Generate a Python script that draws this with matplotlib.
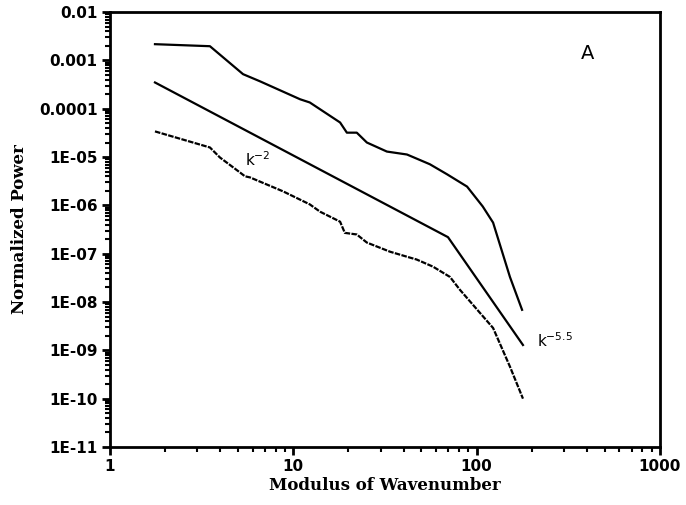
import matplotlib
matplotlib.use("Agg")
import matplotlib.pyplot as plt
from matplotlib.ticker import FixedLocator, LogLocator, NullFormatter

# Upper spectrum
k_top = [1.76, 3.51, 5.32, 6.58, 10.9, 12.3, 18.0, 19.6, 22.2, 25.2, 32.4, 41.7, 45.0,
         55.6, 69.0, 88.7, 108, 123, 152, 177]
p_top = [2.17e-3, 1.97e-3, 5.2e-4, 3.7e-4, 1.57e-4, 1.35e-4, 5.2e-5, 3.2e-5, 3.2e-5, 2.0e-5,
         1.3e-5, 1.13e-5, 1.0e-5, 7.1e-6, 4.4e-6, 2.45e-6, 9.5e-7, 4.4e-7, 3.3e-8, 6.9e-9]

# Reference power law (k^-2 then k^-5.5)
k_ref = [1.76, 69.8, 179]
p_ref = [3.5e-4, 2.2e-7, 1.29e-9]

# Lower spectrum
k_low = [1.76, 3.51, 3.98, 5.12, 5.45, 5.8, 8.8, 12.3, 14.0, 18.0, 19.1, 22.2, 25.2, 33.7,
         43.3, 47.0, 57.8, 71.6, 81, 123, 152, 179]
p_low = [3.4e-5, 1.58e-5, 9.8e-6, 4.8e-6, 4.0e-6, 3.8e-6, 1.95e-6, 1.05e-6, 7.4e-7, 4.6e-7,
         2.7e-7, 2.5e-7, 1.7e-7, 1.1e-7, 8.3e-8, 7.6e-8, 5.4e-8, 3.3e-8, 1.8e-8, 2.9e-9,
         4.6e-10, 1.0e-10]

y_ticks = [1e-2, 1e-3, 1e-4, 1e-5, 1e-6, 1e-7, 1e-8, 1e-9, 1e-10, 1e-11]
y_labels = ["0.01", "0.001", "0.0001", "1E-05", "1E-06", "1E-07", "1E-08", "1E-09", "1E-10", "1E-11"]
x_ticks = [1, 10, 100, 1000]
x_labels = ["1", "10", "100", "1000"]

fig = plt.figure(figsize=(6.86, 5.05), dpi=100)
ax = fig.add_axes([0.1603, 0.1149, 0.8017, 0.8611])

ax.plot(k_top, p_top, color="black", lw=1.6)
ax.plot(k_ref, p_ref, color="black", lw=1.6)
ax.plot(k_low, p_low, color="black", lw=1.6, linestyle=(0, (2.5, 0.6)))

ax.set_xscale("log")
ax.set_yscale("log")
ax.set_xlim(1, 1000)
ax.set_ylim(1e-11, 1e-2)

ax.yaxis.set_major_locator(FixedLocator(y_ticks))
ax.set_yticklabels(y_labels)
ax.xaxis.set_major_locator(FixedLocator(x_ticks))
ax.set_xticklabels(x_labels)
ax.yaxis.set_minor_locator(LogLocator(base=10, subs=range(2, 10), numticks=20))
ax.xaxis.set_minor_locator(LogLocator(base=10, subs=range(2, 10), numticks=20))
ax.yaxis.set_minor_formatter(NullFormatter())
ax.xaxis.set_minor_formatter(NullFormatter())

ax.tick_params(axis="both", which="major", direction="out", length=6, width=2,
               labelsize=11, pad=3)
ax.tick_params(axis="both", which="minor", direction="out", length=3.5, width=1.5)
for lab in ax.get_xticklabels() + ax.get_yticklabels():
    lab.set_fontweight("bold")

for s in ax.spines.values():
    s.set_linewidth(2)

ax.set_xlabel("Modulus of Wavenumber", fontsize=12, fontweight="bold",
              family="DejaVu Serif", labelpad=2)
ax.set_ylabel("Normalized Power", fontsize=12, fontweight="bold",
              family="DejaVu Serif", labelpad=8)

ax.text(0.868, 0.905, "A", transform=ax.transAxes, fontsize=14, ha="center", va="center")
ax.text(6.4, 9.0e-6, r"$\mathregular{k^{-2}}$", fontsize=11, ha="center", va="center")
ax.text(214, 1.6e-9, r"$\mathregular{k^{-5.5}}$", fontsize=11, ha="left", va="center")

fig.savefig("out.png", dpi=100)
